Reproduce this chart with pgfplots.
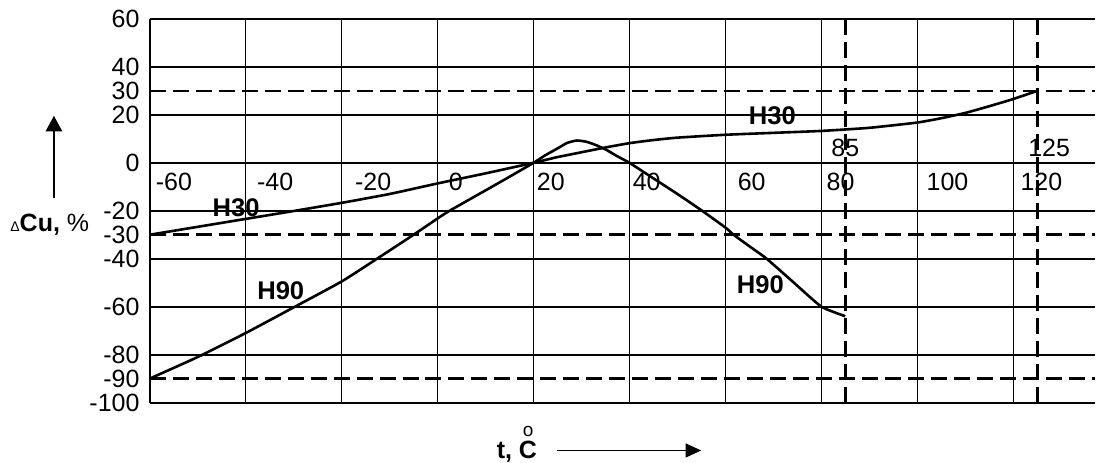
\documentclass[border=0pt]{standalone}
\usepackage{fontspec}
\setmainfont{Liberation Sans}
\usepackage{pgfplots}
\pgfplotsset{compat=1.18}
\usetikzlibrary{arrows.meta}

\pgfplotstableread{
x y
-60 -30
-50 -26.7
-40 -23.4
-30 -20.1
-20 -16.7
-10 -13
0 -8.6
10 -4.4
20 0
25 2.4
30 4.4
35 6.4
40 8.2
45 9.5
50 10.5
60 11.7
70 12.5
80 13.3
90 14.6
100 16.8
105 18.6
110 20.8
115 23.6
120 26.6
125 30
}\hthirty

\pgfplotstableread{
x y
-60 -90
-50 -81
-40 -71
-30 -60.3
-20 -49.5
-13 -40.5
-5 -30
0 -23.2
2.5 -20
10 -11.5
15 -5.8
20 0
22.5 3.2
25 6
27 8.3
29 9.3
31 8.8
33 7.4
35 5.6
37.5 2.7
40 0
45 -6.5
50 -13
55 -19.8
60 -27
61.7 -30
65 -34.8
68.6 -40
74 -49.5
80 -60
85 -64
}\hninety

\begin{document}
\begin{tikzpicture}[font=\fontsize{12.5}{15}\selectfont]
\begin{axis}[
  scale only axis, width=473pt, height=192pt,
  xmin=-60, xmax=137, ymin=-100, ymax=60,
  axis line style={draw=none},
  major tick length=0pt,
  xtick={-60,-40,...,120}, xticklabels={},
  ytick={-100,-80,...,60},
  yticklabels={-100,-80,-60,-40,-20,0,20,40,60},
  extra y ticks={-90,-30,30}, extra y tick labels={-90,-30,30},
  extra y tick style={y grid style={black, line width=1.3pt, dash pattern=on 8pt off 3.5pt}},
  extra x ticks={85,125}, extra x tick labels={{},{}},
  extra x tick style={x grid style={black, line width=1.5pt, dash pattern=on 8pt off 3.5pt}},
  grid=major,
  x grid style={black, line width=0.65pt},
  y grid style={black, line width=1pt},
  yticklabel style={font=\fontsize{12.5}{15}\selectfont, inner sep=0pt, anchor=east, xshift=-5pt},
  clip=false,
]
\coordinate (O) at (rel axis cs:0,0);
\draw[black, line width=1pt] (rel axis cs:0,0) -- (rel axis cs:0,1);
\addplot[black, line width=1.3pt, line join=round, smooth, tension=0.3] table[x=x,y=y] {\hthirty};
\addplot[black, line width=1.3pt, line join=round, smooth, tension=0.3] table[x=x,y=y] {\hninety};
% x labels inside the plot
\node[anchor=west, inner sep=0pt, xshift=2.8pt, yshift=-9.5pt] at (axis cs:-60,0) {-60};
\node[anchor=west, inner sep=0pt, xshift=5.5pt, yshift=-9.5pt] at (axis cs:-40,0) {-40};
\node[anchor=west, inner sep=0pt, xshift=6.5pt, yshift=-9.5pt] at (axis cs:-20,0) {-20};
\node[anchor=west, inner sep=0pt, xshift=5.5pt, yshift=-9.5pt] at (axis cs:0,0) {0};
\node[anchor=west, inner sep=0pt, xshift=1.5pt, yshift=-9.5pt] at (axis cs:20,0) {20};
\node[anchor=west, inner sep=0pt, xshift=1.5pt, yshift=-9.5pt] at (axis cs:40,0) {40};
\node[anchor=west, inner sep=0pt, xshift=6pt, yshift=-9.5pt] at (axis cs:60,0) {60};
\node[anchor=west, inner sep=0pt, xshift=2.5pt, yshift=-9.5pt] at (axis cs:80,0) {80};
\node[anchor=west, inner sep=0pt, xshift=4.5pt, yshift=-9.5pt] at (axis cs:100,0) {100};
\node[anchor=west, inner sep=0pt, xshift=3.5pt, yshift=-9.5pt] at (axis cs:120,0) {120};
\node[inner sep=0pt, yshift=7.5pt] at (axis cs:85,0) {85};
\node[inner sep=0pt, xshift=6pt, yshift=7.5pt] at (axis cs:125,0) {125};
% curve labels
\node[inner sep=0pt, font=\fontsize{12.8}{15}\selectfont\bfseries] at (axis cs:69.8,19.6) {H30};
\node[inner sep=0pt, font=\fontsize{12.8}{15}\selectfont\bfseries] at (axis cs:-42,-18.8) {H30};
\node[inner sep=0pt, font=\fontsize{12.8}{15}\selectfont\bfseries] at (axis cs:-32.7,-53.3) {H90};
\node[inner sep=0pt, font=\fontsize{12.8}{15}\selectfont\bfseries] at (axis cs:67.3,-50.8) {H90};
\end{axis}
% axis titles with arrows
\draw[black, line width=0.7pt, -{Triangle[length=7.8pt,width=8.3pt]}] ([shift={(-48pt,102.5pt)}]O) -- ([shift={(-48pt,143.5pt)}]O);
\node[anchor=base west, inner sep=0pt] at ([shift={(-70pt,85.5pt)}]O) {{\fontsize{7}{8}\selectfont Δ}\textbf{Cu,} \%};
\node[anchor=base west, inner sep=0pt] at ([shift={(173.5pt,-28pt)}]O) {\textbf{t,}\ \textbf{C}};
\node[anchor=base west, inner sep=0pt, font=\fontsize{9.5}{10}\selectfont] at ([shift={(186.5pt,-17.2pt)}]O) {o};
\draw[black, line width=0.7pt, -{Triangle[length=7.8pt,width=7pt]}] ([shift={(204pt,-24pt)}]O) -- ([shift={(276pt,-24pt)}]O);
\path ([shift={(-75pt,-30pt)}]O) rectangle ([shift={(473pt,201.5pt)}]O);
\end{tikzpicture}
\end{document}
